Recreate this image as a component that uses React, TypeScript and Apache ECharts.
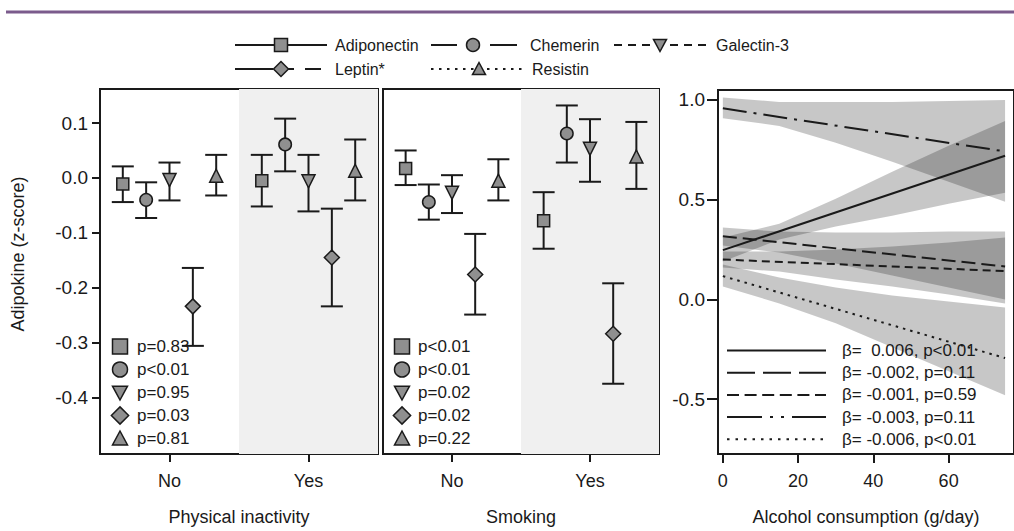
import React, { useEffect, useRef } from "react";
import * as echarts from "echarts";

const FONT = '"Liberation Sans", Arial, Helvetica, sans-serif';
const INK = "#1a1a1a";
const MARK_FILL = "#8f8f8f";

// ---------- data ----------
const GROUPS = ["No", "Yes"];
const ADIPOKINES = ["Adiponectin", "Chemerin", "Galectin-3", "Leptin*", "Resistin"];
const OFFSETS = [-0.336, -0.168, 0, 0.168, 0.336];

// Physical inactivity: [adipokine][No, Yes]
const inactMean = [[-0.011, -0.005], [-0.040, 0.061], [-0.004, -0.006], [-0.234, -0.145], [0.004, 0.013]];
const inactLo = [[-0.044, -0.052], [-0.073, 0.012], [-0.041, -0.061], [-0.306, -0.234], [-0.032, -0.041]];
const inactHi = [[0.021, 0.042], [-0.008, 0.108], [0.028, 0.042], [-0.164, -0.056], [0.042, 0.070]];
const inactP = ["p=0.83", "p<0.01", "p=0.95", "p=0.03", "p=0.81"];

// Smoking
const smokeMean = [[0.017, -0.078], [-0.044, 0.081], [-0.027, 0.053], [-0.176, -0.284], [-0.005, 0.039]];
const smokeLo = [[-0.013, -0.129], [-0.076, 0.028], [-0.064, -0.007], [-0.249, -0.375], [-0.041, -0.020]];
const smokeHi = [[0.050, -0.026], [-0.012, 0.132], [0.005, 0.107], [-0.102, -0.192], [0.034, 0.102]];
const smokeP = ["p<0.01", "p<0.01", "p=0.02", "p=0.02", "p=0.22"];

// Alcohol consumption (g/day)
const alcLineX = [0, 75];
const alcAdipoLine = [0.247, 0.720];
const alcChemLine = [0.317, 0.165];
const alcGalLine = [0.200, 0.142];
const alcLepLine = [0.958, 0.742];
const alcResLine = [0.117, -0.294];

const alcBandX = [0, 15, 30, 45, 60, 75];
const alcAdipoLo = [0.19, 0.30, 0.365, 0.42, 0.48, 0.535];
const alcAdipoHi = [0.31, 0.38, 0.505, 0.64, 0.77, 0.895];
const alcChemLo = [0.27, 0.235, 0.18, 0.12, 0.06, 0.0];
const alcChemHi = [0.36, 0.34, 0.335, 0.335, 0.34, 0.34];
const alcGalLo = [0.16, 0.14, 0.10, 0.065, 0.025, -0.02];
const alcGalHi = [0.24, 0.24, 0.25, 0.265, 0.285, 0.31];
const alcLepLo = [0.908, 0.87, 0.785, 0.69, 0.59, 0.49];
const alcLepHi = [1.012, 0.99, 0.99, 0.99, 0.995, 1.0];
const alcResLo = [0.065, -0.02, -0.12, -0.24, -0.36, -0.48];
const alcResHi = [0.175, 0.11, 0.06, 0.02, -0.01, -0.04];

const betaLabels = [
  "β=  0.006, p<0.01",
  "β= -0.002, p=0.11",
  "β= -0.001, p=0.59",
  "β= -0.003, p=0.11",
  "β= -0.006, p<0.01",
];

const yTicksLeft = [-0.4, -0.3, -0.2, -0.1, 0, 0.1];
const yTicksRight = [-0.5, 0, 0.5, 1.0];
const xTicksAlc = [0, 20, 40, 60];
const xTicksGroup = [0, 1];

// ---------- styles ----------
const SYMBOLS = ["rect", "circle", "triangle", "diamond", "triangle"];
const ROTATE = [0, 0, 180, 0, 0];
const SIZES = [12, 12.5, 13, 15, 13];
const LINE_DASH: any[] = ["solid", [14, 6], [8, 5], [24, 7, 3, 7], [2.5, 5]];
const LEGEND_DASH: any[] = [null, [28, 8], [12, 5.6], [35, 8, 3, 8, 3, 8], [2.5, 6]];

const markStyle = { fill: MARK_FILL, stroke: INK, lineWidth: 1.5 };

function marker(kind: number, cx: number, cy: number, s: number): any {
  const h = s / 2;
  const common = { style: markStyle, z: 100, silent: true };
  if (kind === 0) return { type: "rect", shape: { x: cx - h, y: cy - h, width: s, height: s }, ...common };
  if (kind === 1) return { type: "circle", shape: { cx, cy, r: h }, ...common };
  if (kind === 2)
    return { type: "polygon", shape: { points: [[cx - h, cy - h * 0.85], [cx + h, cy - h * 0.85], [cx, cy + h]] }, ...common };
  if (kind === 3)
    return { type: "polygon", shape: { points: [[cx, cy - h * 1.15], [cx + h * 1.15, cy], [cx, cy + h * 1.15], [cx - h * 1.15, cy]] }, ...common };
  return { type: "polygon", shape: { points: [[cx, cy - h], [cx + h, cy + h * 0.85], [cx - h, cy + h * 0.85]] }, ...common };
}

function txt(text: string, x: number, y: number, size: number, extra: any = {}): any {
  return {
    type: "text",
    x,
    y,
    z: 100,
    silent: true,
    style: { text, fontSize: size, fontFamily: FONT, fill: INK, verticalAlign: "middle", align: "left", ...extra },
  };
}

function seg(x1: number, y1: number, x2: number, y2: number, dash: any = null, w = 2): any {
  const style: any = { stroke: INK, lineWidth: w };
  if (dash) style.lineDash = dash;
  return { type: "line", z: 99, silent: true, shape: { x1, y1, x2, y2 }, style };
}

function panelSeries(gi: number, mean: number[][], lo: number[][], hi: number[][]): any[] {
  const out: any[] = [];
  out.push({
    type: "custom",
    xAxisIndex: gi,
    yAxisIndex: gi,
    z: 1,
    silent: true,
    data: [[0.5, 0]],
    renderItem: (params: any, api: any) => {
      const cs = params.coordSys;
      const x0 = api.coord([api.value(0), 0])[0];
      return {
        type: "rect",
        shape: { x: x0, y: cs.y, width: cs.x + cs.width - x0, height: cs.height },
        style: { fill: "#f0f0f0" },
      };
    },
  });
  const eb: number[][] = [];
  ADIPOKINES.forEach((_, a) => GROUPS.forEach((__, g) => eb.push([g + OFFSETS[a], lo[a][g], hi[a][g]])));
  out.push({
    type: "custom",
    xAxisIndex: gi,
    yAxisIndex: gi,
    z: 3,
    silent: true,
    data: eb,
    encode: { x: 0, y: [1, 2] },
    renderItem: (_p: any, api: any) => {
      const x = api.value(0);
      const a = api.coord([x, api.value(1)]);
      const b = api.coord([x, api.value(2)]);
      const w = 11;
      const style = { stroke: INK, lineWidth: 2 };
      return {
        type: "group",
        children: [
          { type: "line", shape: { x1: a[0], y1: a[1], x2: b[0], y2: b[1] }, style },
          { type: "line", shape: { x1: a[0] - w, y1: a[1], x2: a[0] + w, y2: a[1] }, style },
          { type: "line", shape: { x1: b[0] - w, y1: b[1], x2: b[0] + w, y2: b[1] }, style },
        ],
      };
    },
  });
  ADIPOKINES.forEach((name, a) => {
    out.push({
      type: "scatter",
      name,
      xAxisIndex: gi,
      yAxisIndex: gi,
      z: 4,
      silent: true,
      symbol: SYMBOLS[a],
      symbolRotate: ROTATE[a],
      symbolSize: SIZES[a],
      itemStyle: { color: MARK_FILL, borderColor: INK, borderWidth: 1.5, opacity: 1 },
      data: GROUPS.map((_, g) => [g + OFFSETS[a], mean[a][g]]),
    });
  });
  return out;
}

function bandSeries(lo: number[], hi: number[]): any {
  return {
    type: "custom",
    xAxisIndex: 2,
    yAxisIndex: 2,
    z: 2,
    silent: true,
    data: alcBandX.map((x, i) => [x, lo[i], hi[i]]),
    encode: { x: 0, y: [1, 2] },
    renderItem: (params: any, api: any) => {
      if (params.dataIndex !== 0) return null;
      const up = alcBandX.map((x, i) => api.coord([x, hi[i]]));
      const dn = alcBandX.map((x, i) => api.coord([x, lo[i]])).reverse();
      return { type: "polygon", shape: { points: up.concat(dn) }, style: { fill: "rgba(0,0,0,0.22)" } };
    },
  };
}

function lineSeries(vals: number[], dash: any): any {
  return {
    type: "line",
    xAxisIndex: 2,
    yAxisIndex: 2,
    z: 3,
    silent: true,
    symbol: "none",
    showSymbol: false,
    lineStyle: { color: INK, width: 2, type: dash },
    data: alcLineX.map((x, i) => [x, vals[i]]),
  };
}

const labelStyle = { fontSize: 18, color: INK, fontFamily: FONT };
const yLabelStyle = { fontSize: 19, color: INK, fontFamily: FONT };
const nameStyle = { fontSize: 18, color: INK, fontFamily: FONT };
const tickStyle = { color: INK, width: 2 };
const noLine = { show: false, onZero: false };

function groupXAxis(gi: number, name: string): any {
  return {
    gridIndex: gi,
    type: "value",
    min: -0.5,
    max: 1.5,
    name,
    nameLocation: "middle",
    nameGap: 54,
    nameTextStyle: nameStyle,
    axisLine: noLine,
    splitLine: { show: false },
    axisTick: { show: true, customValues: xTicksGroup, length: 8, lineStyle: tickStyle },
    axisLabel: { customValues: xTicksGroup, formatter: (v: number) => GROUPS[Math.round(v)], margin: 18, ...labelStyle },
  };
}

function buildOption(): any {
  const graphic: any[] = [];
  // top rule
  graphic.push({ type: "line", z: 99, silent: true, shape: { x1: 6, y1: 12, x2: 1014, y2: 12 }, style: { stroke: "#7b5b8c", lineWidth: 3 } });

  // top legend
  const r1 = 45, r2 = 69;
  graphic.push(seg(235, r1, 327, r1));
  graphic.push(marker(0, 281, r1, 13));
  graphic.push(txt(ADIPOKINES[0], 335, r1, 16));
  graphic.push(seg(431, r1, 457, r1));
  graphic.push(seg(490, r1, 517, r1));
  graphic.push(marker(1, 473, r1, 13));
  graphic.push(txt(ADIPOKINES[1], 530, r1, 16));
  graphic.push(seg(614, r1, 711, r1, [8, 6]));
  graphic.push(marker(2, 660, r1, 13));
  graphic.push(txt(ADIPOKINES[2], 716, r1, 16));
  graphic.push(seg(235, r2, 273, r2));
  graphic.push(seg(288, r2, 294, r2));
  graphic.push(seg(305, r2, 321, r2));
  graphic.push(marker(3, 281, r2, 13));
  graphic.push(txt(ADIPOKINES[3], 335, r2, 16));
  graphic.push(seg(431, r2, 525, r2, [2.5, 5.5]));
  graphic.push(marker(4, 479, r2, 13));
  graphic.push(txt(ADIPOKINES[4], 532, r2, 16));

  // p-value legends inside the panels
  const pRows = [346.5, 369.5, 392.5, 415.5, 438.5];
  inactP.forEach((p, i) => {
    graphic.push(marker(i, 120, pRows[i], 15));
    graphic.push(txt(p, 137, pRows[i], 17));
  });
  smokeP.forEach((p, i) => {
    graphic.push(marker(i, 402, pRows[i], 15));
    graphic.push(txt(p, 418, pRows[i], 17));
  });

  // beta legend in alcohol panel
  const bRows = [350.5, 372.7, 394.9, 417.1, 439.3];
  betaLabels.forEach((b, i) => {
    graphic.push(seg(727, bRows[i], 826, bRows[i], LEGEND_DASH[i]));
    graphic.push(txt(b, 842, bRows[i], 17, { whiteSpace: "pre" }));
  });

  // y-axis title
  graphic.push({
    type: "text",
    x: 18,
    y: 254,
    rotation: Math.PI / 2,
    z: 100,
    silent: true,
    style: { text: "Adipokine (z-score)", fontSize: 18, fontFamily: FONT, fill: INK, align: "center", verticalAlign: "middle" },
  });

  const gridBase = { show: true, borderColor: INK, borderWidth: 2, backgroundColor: "transparent" };

  return {
    animation: false,
    backgroundColor: "#ffffff",
    textStyle: { fontFamily: FONT },
    grid: [
      { ...gridBase, left: 100, top: 89, width: 278, height: 366 },
      { ...gridBase, left: 383, top: 89, width: 276, height: 366 },
      { ...gridBase, left: 718, top: 90, right: -10, height: 365 },
    ],
    xAxis: [
      groupXAxis(0, "Physical inactivity"),
      groupXAxis(1, "Smoking"),
      {
        gridIndex: 2,
        type: "value",
        min: -1.29,
        max: 77.37,
        name: "Alcohol consumption (g/day)",
        nameLocation: "middle",
        nameGap: 54,
        nameTextStyle: nameStyle,
        axisLine: noLine,
        splitLine: { show: false },
        axisTick: { show: true, customValues: xTicksAlc, length: 9, lineStyle: tickStyle },
        axisLabel: { customValues: xTicksAlc, formatter: (v: number) => String(v), margin: 18, ...labelStyle },
      },
    ],
    yAxis: [
      {
        gridIndex: 0,
        type: "value",
        min: -0.503,
        max: 0.162,
        axisLine: noLine,
        splitLine: { show: false },
        axisTick: { show: true, customValues: yTicksLeft, length: 8, lineStyle: tickStyle },
        axisLabel: { customValues: yTicksLeft, formatter: (v: number) => v.toFixed(1), margin: 12, ...yLabelStyle },
      },
      {
        gridIndex: 1,
        type: "value",
        min: -0.503,
        max: 0.162,
        axisLine: noLine,
        splitLine: { show: false },
        axisTick: { show: false },
        axisLabel: { show: false },
      },
      {
        gridIndex: 2,
        type: "value",
        min: -0.775,
        max: 1.05,
        axisLine: noLine,
        splitLine: { show: false },
        axisTick: { show: true, customValues: yTicksRight, length: 11, lineStyle: tickStyle },
        axisLabel: { customValues: yTicksRight, formatter: (v: number) => v.toFixed(1), margin: 13, ...yLabelStyle },
      },
    ],
    graphic,
    series: [
      ...panelSeries(0, inactMean, inactLo, inactHi),
      ...panelSeries(1, smokeMean, smokeLo, smokeHi),
      bandSeries(alcAdipoLo, alcAdipoHi),
      bandSeries(alcChemLo, alcChemHi),
      bandSeries(alcGalLo, alcGalHi),
      bandSeries(alcLepLo, alcLepHi),
      bandSeries(alcResLo, alcResHi),
      lineSeries(alcAdipoLine, LINE_DASH[0]),
      lineSeries(alcChemLine, LINE_DASH[1]),
      lineSeries(alcGalLine, LINE_DASH[2]),
      lineSeries(alcLepLine, LINE_DASH[3]),
      lineSeries(alcResLine, LINE_DASH[4]),
    ],
  };
}

export default function App() {
  const ref = useRef<HTMLDivElement>(null);
  useEffect(() => {
    if (!ref.current) return;
    const chart = echarts.init(ref.current, null, { renderer: "svg" });
    chart.setOption(buildOption());
    return () => chart.dispose();
  }, []);
  return (
    <div
      ref={ref}
      style={{ position: "fixed", left: 0, top: 0, width: 1014, height: 531, overflow: "hidden", background: "#fff" }}
    />
  );
}
